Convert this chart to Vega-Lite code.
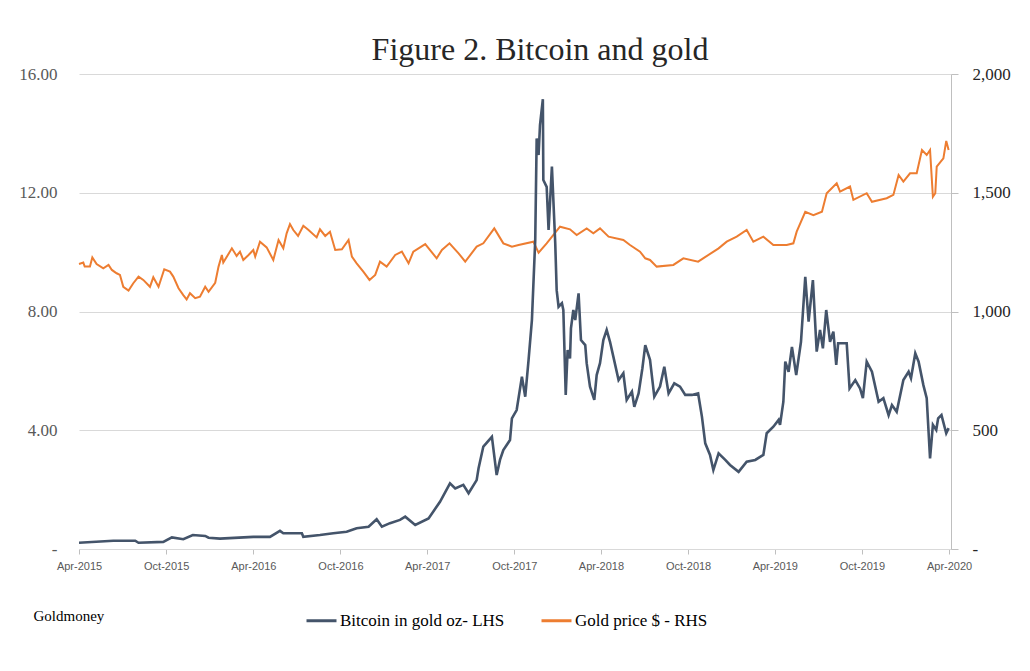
{
  "$schema": "https://vega.github.io/schema/vega-lite/v6.json",
  "width": 872,
  "height": 475,
  "autosize": "none",
  "padding": {"left": 79, "top": 74, "right": 79, "bottom": 122},
  "background": "white",
  "title": {
    "text": "Figure 2. Bitcoin and gold",
    "font": "Liberation Serif",
    "fontSize": 32,
    "fontWeight": "normal",
    "color": "#262626",
    "anchor": "middle",
    "dx": 25,
    "offset": -2
  },
  "datasets": {
    "gold": [
      {"date": "2015-04-01", "value": 1200}, {"date": "2015-04-10", "value": 1206},
      {"date": "2015-04-13", "value": 1189}, {"date": "2015-04-24", "value": 1189},
      {"date": "2015-04-29", "value": 1228}, {"date": "2015-05-08", "value": 1200},
      {"date": "2015-05-22", "value": 1182}, {"date": "2015-06-02", "value": 1196},
      {"date": "2015-06-09", "value": 1175}, {"date": "2015-06-19", "value": 1161},
      {"date": "2015-06-26", "value": 1154}, {"date": "2015-07-03", "value": 1104},
      {"date": "2015-07-14", "value": 1088}, {"date": "2015-07-24", "value": 1119},
      {"date": "2015-08-04", "value": 1147}, {"date": "2015-08-14", "value": 1133},
      {"date": "2015-08-28", "value": 1104}, {"date": "2015-09-04", "value": 1144},
      {"date": "2015-09-15", "value": 1104}, {"date": "2015-09-27", "value": 1178},
      {"date": "2015-10-09", "value": 1168}, {"date": "2015-10-16", "value": 1147},
      {"date": "2015-10-27", "value": 1098}, {"date": "2015-11-06", "value": 1069},
      {"date": "2015-11-13", "value": 1051}, {"date": "2015-11-20", "value": 1077},
      {"date": "2015-12-01", "value": 1056}, {"date": "2015-12-11", "value": 1062},
      {"date": "2015-12-22", "value": 1104}, {"date": "2015-12-29", "value": 1083},
      {"date": "2016-01-12", "value": 1121}, {"date": "2016-01-19", "value": 1189},
      {"date": "2016-01-26", "value": 1238}, {"date": "2016-01-29", "value": 1206},
      {"date": "2016-02-16", "value": 1266}, {"date": "2016-02-26", "value": 1234},
      {"date": "2016-03-04", "value": 1252}, {"date": "2016-03-11", "value": 1217},
      {"date": "2016-03-22", "value": 1238}, {"date": "2016-04-01", "value": 1259},
      {"date": "2016-04-05", "value": 1231}, {"date": "2016-04-15", "value": 1294},
      {"date": "2016-04-29", "value": 1270}, {"date": "2016-05-13", "value": 1217},
      {"date": "2016-05-24", "value": 1301}, {"date": "2016-06-03", "value": 1266},
      {"date": "2016-06-10", "value": 1329}, {"date": "2016-06-17", "value": 1368},
      {"date": "2016-06-24", "value": 1343}, {"date": "2016-07-04", "value": 1318},
      {"date": "2016-07-15", "value": 1361}, {"date": "2016-07-26", "value": 1343},
      {"date": "2016-08-12", "value": 1312}, {"date": "2016-08-19", "value": 1346},
      {"date": "2016-08-30", "value": 1318}, {"date": "2016-09-09", "value": 1336},
      {"date": "2016-09-20", "value": 1259}, {"date": "2016-10-04", "value": 1262},
      {"date": "2016-10-18", "value": 1301}, {"date": "2016-10-25", "value": 1231},
      {"date": "2016-11-04", "value": 1203}, {"date": "2016-11-18", "value": 1168},
      {"date": "2016-12-01", "value": 1133}, {"date": "2016-12-13", "value": 1154},
      {"date": "2016-12-23", "value": 1210}, {"date": "2017-01-06", "value": 1189},
      {"date": "2017-01-24", "value": 1238}, {"date": "2017-02-07", "value": 1252},
      {"date": "2017-02-21", "value": 1203}, {"date": "2017-03-03", "value": 1252},
      {"date": "2017-03-28", "value": 1284}, {"date": "2017-04-21", "value": 1224},
      {"date": "2017-05-02", "value": 1259}, {"date": "2017-05-18", "value": 1287},
      {"date": "2017-06-06", "value": 1245}, {"date": "2017-06-20", "value": 1210},
      {"date": "2017-07-14", "value": 1273}, {"date": "2017-07-28", "value": 1287},
      {"date": "2017-08-20", "value": 1350}, {"date": "2017-09-08", "value": 1287},
      {"date": "2017-09-26", "value": 1273}, {"date": "2017-10-10", "value": 1280},
      {"date": "2017-11-10", "value": 1294}, {"date": "2017-11-21", "value": 1248},
      {"date": "2017-12-08", "value": 1287}, {"date": "2018-01-05", "value": 1357},
      {"date": "2018-01-26", "value": 1346}, {"date": "2018-02-09", "value": 1322},
      {"date": "2018-03-02", "value": 1350}, {"date": "2018-03-16", "value": 1329},
      {"date": "2018-03-30", "value": 1350}, {"date": "2018-04-17", "value": 1315},
      {"date": "2018-05-18", "value": 1301}, {"date": "2018-06-01", "value": 1280},
      {"date": "2018-06-22", "value": 1252}, {"date": "2018-07-03", "value": 1224},
      {"date": "2018-07-13", "value": 1217}, {"date": "2018-07-27", "value": 1189},
      {"date": "2018-08-31", "value": 1196}, {"date": "2018-09-21", "value": 1224},
      {"date": "2018-10-22", "value": 1210}, {"date": "2018-12-04", "value": 1266},
      {"date": "2018-12-21", "value": 1294}, {"date": "2019-01-11", "value": 1315},
      {"date": "2019-02-01", "value": 1343}, {"date": "2019-02-15", "value": 1294},
      {"date": "2019-03-08", "value": 1315}, {"date": "2019-03-29", "value": 1280},
      {"date": "2019-04-26", "value": 1280}, {"date": "2019-05-10", "value": 1287},
      {"date": "2019-05-17", "value": 1336}, {"date": "2019-06-04", "value": 1420},
      {"date": "2019-06-21", "value": 1406}, {"date": "2019-07-09", "value": 1420},
      {"date": "2019-07-19", "value": 1498}, {"date": "2019-08-09", "value": 1540},
      {"date": "2019-08-16", "value": 1505}, {"date": "2019-09-06", "value": 1526},
      {"date": "2019-09-13", "value": 1470}, {"date": "2019-10-11", "value": 1498},
      {"date": "2019-10-22", "value": 1462}, {"date": "2019-11-22", "value": 1477},
      {"date": "2019-12-06", "value": 1491}, {"date": "2019-12-17", "value": 1575},
      {"date": "2019-12-27", "value": 1547}, {"date": "2020-01-10", "value": 1582},
      {"date": "2020-01-24", "value": 1582}, {"date": "2020-02-04", "value": 1680},
      {"date": "2020-02-14", "value": 1659}, {"date": "2020-02-21", "value": 1680},
      {"date": "2020-02-27", "value": 1483}, {"date": "2020-03-03", "value": 1498},
      {"date": "2020-03-06", "value": 1610}, {"date": "2020-03-20", "value": 1645},
      {"date": "2020-03-26", "value": 1718}, {"date": "2020-03-31", "value": 1680}
    ],
    "btc": [
      {"date": "2015-04-01", "value": 0.21}, {"date": "2015-06-12", "value": 0.28},
      {"date": "2015-07-28", "value": 0.28}, {"date": "2015-08-04", "value": 0.21},
      {"date": "2015-09-25", "value": 0.24}, {"date": "2015-10-13", "value": 0.39},
      {"date": "2015-11-06", "value": 0.33}, {"date": "2015-11-26", "value": 0.47},
      {"date": "2015-12-22", "value": 0.44}, {"date": "2015-12-29", "value": 0.38},
      {"date": "2016-01-22", "value": 0.35}, {"date": "2016-04-01", "value": 0.41},
      {"date": "2016-05-06", "value": 0.41}, {"date": "2016-05-27", "value": 0.61},
      {"date": "2016-06-03", "value": 0.53}, {"date": "2016-07-12", "value": 0.53},
      {"date": "2016-07-15", "value": 0.41}, {"date": "2016-08-19", "value": 0.47},
      {"date": "2016-09-16", "value": 0.53}, {"date": "2016-10-14", "value": 0.58},
      {"date": "2016-11-04", "value": 0.7}, {"date": "2016-11-29", "value": 0.75},
      {"date": "2016-12-16", "value": 1.0}, {"date": "2016-12-27", "value": 0.75},
      {"date": "2017-01-13", "value": 0.87}, {"date": "2017-02-03", "value": 0.98},
      {"date": "2017-02-14", "value": 1.09}, {"date": "2017-03-07", "value": 0.81},
      {"date": "2017-04-04", "value": 1.03}, {"date": "2017-04-28", "value": 1.59},
      {"date": "2017-05-19", "value": 2.21}, {"date": "2017-05-30", "value": 2.04},
      {"date": "2017-06-16", "value": 2.16}, {"date": "2017-06-27", "value": 1.88},
      {"date": "2017-07-14", "value": 2.32}, {"date": "2017-07-18", "value": 2.72},
      {"date": "2017-07-28", "value": 3.45}, {"date": "2017-08-15", "value": 3.78},
      {"date": "2017-08-25", "value": 2.49}, {"date": "2017-09-01", "value": 3.0},
      {"date": "2017-09-08", "value": 3.33}, {"date": "2017-09-22", "value": 3.67},
      {"date": "2017-09-26", "value": 4.4}, {"date": "2017-10-06", "value": 4.68},
      {"date": "2017-10-17", "value": 5.8}, {"date": "2017-10-24", "value": 5.13},
      {"date": "2017-10-31", "value": 6.37}, {"date": "2017-11-07", "value": 7.71},
      {"date": "2017-11-14", "value": 10.41}, {"date": "2017-11-17", "value": 13.83},
      {"date": "2017-11-21", "value": 13.27}, {"date": "2017-11-24", "value": 14.28},
      {"date": "2017-11-30", "value": 15.15}, {"date": "2017-12-01", "value": 12.43},
      {"date": "2017-12-08", "value": 12.2}, {"date": "2017-12-12", "value": 10.75},
      {"date": "2017-12-19", "value": 12.88}, {"date": "2017-12-26", "value": 10.3},
      {"date": "2017-12-29", "value": 8.72}, {"date": "2018-01-02", "value": 8.16},
      {"date": "2018-01-09", "value": 8.28}, {"date": "2018-01-12", "value": 8.05},
      {"date": "2018-01-17", "value": 5.19}, {"date": "2018-01-21", "value": 6.7},
      {"date": "2018-01-26", "value": 6.42}, {"date": "2018-01-28", "value": 7.43},
      {"date": "2018-02-02", "value": 8.05}, {"date": "2018-02-06", "value": 7.71},
      {"date": "2018-02-13", "value": 8.61}, {"date": "2018-02-18", "value": 7.04},
      {"date": "2018-02-27", "value": 6.87}, {"date": "2018-03-02", "value": 6.26},
      {"date": "2018-03-09", "value": 5.47}, {"date": "2018-03-18", "value": 5.02},
      {"date": "2018-03-23", "value": 5.86}, {"date": "2018-03-30", "value": 6.26},
      {"date": "2018-04-06", "value": 7.04}, {"date": "2018-04-13", "value": 7.38},
      {"date": "2018-04-20", "value": 6.98}, {"date": "2018-04-27", "value": 6.48},
      {"date": "2018-05-08", "value": 5.69}, {"date": "2018-05-18", "value": 5.92},
      {"date": "2018-05-25", "value": 5.02}, {"date": "2018-06-05", "value": 5.3},
      {"date": "2018-06-10", "value": 4.79}, {"date": "2018-06-19", "value": 5.24},
      {"date": "2018-06-27", "value": 6.09}, {"date": "2018-07-03", "value": 6.87},
      {"date": "2018-07-13", "value": 6.37}, {"date": "2018-07-22", "value": 5.13},
      {"date": "2018-08-03", "value": 5.47}, {"date": "2018-08-12", "value": 6.14},
      {"date": "2018-08-21", "value": 5.24}, {"date": "2018-09-02", "value": 5.58},
      {"date": "2018-09-14", "value": 5.47}, {"date": "2018-09-25", "value": 5.19},
      {"date": "2018-10-09", "value": 5.19}, {"date": "2018-10-22", "value": 5.24},
      {"date": "2018-10-30", "value": 4.46}, {"date": "2018-11-06", "value": 3.56},
      {"date": "2018-11-16", "value": 3.17}, {"date": "2018-11-23", "value": 2.66},
      {"date": "2018-12-04", "value": 3.22}, {"date": "2018-12-18", "value": 3.0},
      {"date": "2018-12-28", "value": 2.83}, {"date": "2019-01-15", "value": 2.6},
      {"date": "2019-02-01", "value": 2.94}, {"date": "2019-02-19", "value": 3.0},
      {"date": "2019-03-08", "value": 3.17}, {"date": "2019-03-15", "value": 3.9},
      {"date": "2019-03-29", "value": 4.12}, {"date": "2019-04-09", "value": 4.35},
      {"date": "2019-04-12", "value": 4.18}, {"date": "2019-04-19", "value": 4.96},
      {"date": "2019-04-23", "value": 6.31}, {"date": "2019-04-30", "value": 5.97},
      {"date": "2019-05-07", "value": 6.81}, {"date": "2019-05-16", "value": 5.86},
      {"date": "2019-05-26", "value": 6.98}, {"date": "2019-06-04", "value": 9.17},
      {"date": "2019-06-11", "value": 7.66}, {"date": "2019-06-20", "value": 9.06},
      {"date": "2019-06-28", "value": 6.65}, {"date": "2019-07-05", "value": 7.38},
      {"date": "2019-07-11", "value": 6.76}, {"date": "2019-07-18", "value": 8.05},
      {"date": "2019-07-26", "value": 6.98}, {"date": "2019-08-02", "value": 7.32},
      {"date": "2019-08-08", "value": 6.2}, {"date": "2019-08-12", "value": 6.93},
      {"date": "2019-08-30", "value": 6.93}, {"date": "2019-09-05", "value": 5.41},
      {"date": "2019-09-17", "value": 5.69}, {"date": "2019-09-27", "value": 5.41},
      {"date": "2019-10-03", "value": 5.08}, {"date": "2019-10-11", "value": 6.31},
      {"date": "2019-10-22", "value": 5.97}, {"date": "2019-11-05", "value": 4.96},
      {"date": "2019-11-15", "value": 5.08}, {"date": "2019-11-26", "value": 4.51},
      {"date": "2019-12-03", "value": 4.85}, {"date": "2019-12-13", "value": 4.62},
      {"date": "2019-12-27", "value": 5.69}, {"date": "2020-01-07", "value": 5.97},
      {"date": "2020-01-12", "value": 5.75}, {"date": "2020-01-21", "value": 6.59},
      {"date": "2020-01-28", "value": 6.31}, {"date": "2020-02-07", "value": 5.52},
      {"date": "2020-02-14", "value": 5.08}, {"date": "2020-02-21", "value": 3.05},
      {"date": "2020-02-27", "value": 4.18}, {"date": "2020-03-05", "value": 4.01},
      {"date": "2020-03-09", "value": 4.4}, {"date": "2020-03-16", "value": 4.51},
      {"date": "2020-03-26", "value": 3.9}, {"date": "2020-03-31", "value": 4.07}
    ]
  },
  "encoding": {
    "x": {
      "field": "date",
      "type": "temporal",
      "scale": {
        "type": "utc",
        "domain": [
          {"year": 2015, "month": 4, "date": 1, "utc": true},
          {"year": 2020, "month": 4, "date": 5, "utc": true}
        ]
      },
      "axis": {
        "values": [
          {"year": 2015, "month": 4, "date": 1, "utc": true},
          {"year": 2015, "month": 10, "date": 1, "utc": true},
          {"year": 2016, "month": 4, "date": 1, "utc": true},
          {"year": 2016, "month": 10, "date": 1, "utc": true},
          {"year": 2017, "month": 4, "date": 1, "utc": true},
          {"year": 2017, "month": 10, "date": 1, "utc": true},
          {"year": 2018, "month": 4, "date": 1, "utc": true},
          {"year": 2018, "month": 10, "date": 1, "utc": true},
          {"year": 2019, "month": 4, "date": 1, "utc": true},
          {"year": 2019, "month": 10, "date": 1, "utc": true},
          {"year": 2020, "month": 4, "date": 1, "utc": true}
        ],
        "format": "%b-%Y",
        "labelFont": "Liberation Sans",
        "labelFontSize": 11,
        "labelColor": "#595959",
        "labelPadding": 6,
        "labelFlush": false,
        "labelOverlap": false,
        "labelBound": false,
        "tickColor": "#bfbfbf",
        "tickSize": 5,
        "domainColor": "#d9d9d9",
        "grid": false,
        "title": "Goldmoney",
        "titleFont": "Liberation Serif",
        "titleFontSize": 15,
        "titleFontWeight": "normal",
        "titleColor": "#000000",
        "titleAlign": "left",
        "titleBaseline": "middle",
        "titleX": -46,
        "titleY": 66
      }
    }
  },
  "layer": [
    {
      "data": {"name": "gold"},
      "mark": {"type": "line", "strokeWidth": 2},
      "encoding": {
        "y": {
          "field": "value",
          "type": "quantitative",
          "scale": {"domain": [0, 2000]},
          "axis": {
            "orient": "right",
            "values": [0, 500, 1000, 1500, 2000],
            "labelExpr": "datum.value == 0 ? '-' : format(datum.value, ',')",
            "grid": false,
            "domain": true,
            "domainColor": "#bfbfbf",
            "ticks": true,
            "tickColor": "#bfbfbf",
            "tickSize": 7,
            "labelPadding": 14,
            "labelFont": "Liberation Serif",
            "labelFontSize": 17,
            "labelColor": "#262626",
            "title": null
          }
        },
        "color": {
          "datum": "Gold price $ - RHS",
          "scale": {
            "domain": ["Bitcoin in gold oz- LHS", "Gold price $ - RHS"],
            "range": ["#44546A", "#ED7D31"]
          },
          "legend": {
            "orient": "none",
            "legendX": 226,
            "legendY": 530,
            "direction": "horizontal",
            "title": null,
            "symbolType": "stroke",
            "symbolSize": 900,
            "symbolStrokeWidth": 3,
            "labelFont": "Liberation Serif",
            "labelFontSize": 17,
            "labelColor": "#000000",
            "labelLimit": 0,
            "labelOffset": 2,
            "columnPadding": 30
          }
        }
      }
    },
    {
      "data": {"name": "btc"},
      "mark": {"type": "line", "strokeWidth": 2.6},
      "encoding": {
        "y": {
          "field": "value",
          "type": "quantitative",
          "scale": {"domain": [0, 16]},
          "axis": {
            "orient": "left",
            "values": [0, 4, 8, 12, 16],
            "labelExpr": "datum.value == 0 ? '-' : format(datum.value, '.2f')",
            "grid": true,
            "gridColor": "#d9d9d9",
            "gridWidth": 1.2,
            "domain": false,
            "ticks": false,
            "labelPadding": 22,
            "labelFont": "Liberation Serif",
            "labelFontSize": 17,
            "labelColor": "#595959",
            "title": null
          }
        },
        "color": {
          "datum": "Bitcoin in gold oz- LHS",
          "scale": {
            "domain": ["Bitcoin in gold oz- LHS", "Gold price $ - RHS"],
            "range": ["#44546A", "#ED7D31"]
          },
          "legend": {
            "orient": "none",
            "legendX": 226,
            "legendY": 530,
            "direction": "horizontal",
            "title": null,
            "symbolType": "stroke",
            "symbolSize": 900,
            "symbolStrokeWidth": 3,
            "labelFont": "Liberation Serif",
            "labelFontSize": 17,
            "labelColor": "#000000",
            "labelLimit": 0,
            "labelOffset": 2,
            "columnPadding": 30
          }
        }
      }
    }
  ],
  "resolve": {"scale": {"y": "independent"}},
  "config": {"view": {"stroke": null}}
}
